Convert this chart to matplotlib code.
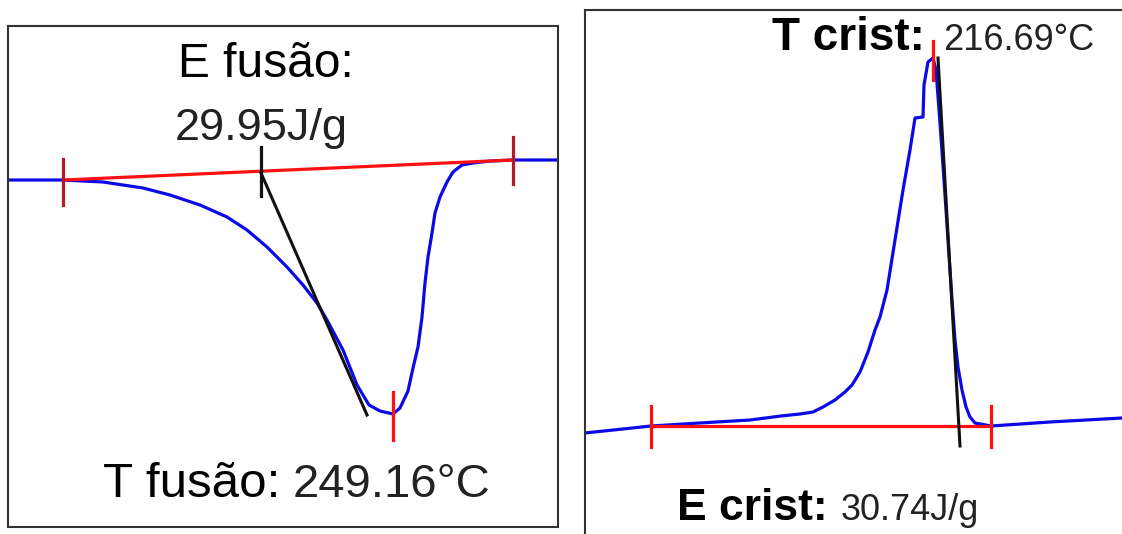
import matplotlib
matplotlib.use("Agg")
import matplotlib.pyplot as plt

plt.rcParams["font.family"] = ["Liberation Sans", "DejaVu Sans"]

W, H, DPI = 1122, 534, 100

# ---- Melting (fusão) endotherm: temperature (°C) vs heat flow (arb. units)
t_fusao = 249.16
e_fusao = 29.95
fus_temp = [218.36, 222.76, 225.96, 229.16, 231.32, 233.72, 235.88, 237.48, 239.08,
            240.68, 241.96, 243.08, 243.88, 245.16, 246.28, 247.24, 248.12, 249.16,
            249.72, 250.36, 250.76, 251.16, 251.48, 251.72, 251.96, 252.28, 252.52,
            252.92, 253.48, 253.96, 254.68, 255.56, 256.92, 258.76, 262.36]
fus_flow = [0.0, 0.0, -0.02, -0.08, -0.15, -0.25, -0.37, -0.50, -0.67,
            -0.87, -1.05, -1.23, -1.40, -1.70, -2.05, -2.25, -2.31, -2.34,
            -2.28, -2.11, -1.88, -1.67, -1.37, -1.03, -0.77, -0.53, -0.33,
            -0.17, -0.02, 0.08, 0.15, 0.17, 0.19, 0.20, 0.20]
fus_base_temp = [222.76, 258.76]
fus_base_flow = [0.0, 0.20]
fus_area_temp = 238.6          # marker on the baseline for the enthalpy label
fus_tangent_temp = [238.6, 247.08]
fus_tangent_flow = [0.07, -2.35]

# ---- Crystallisation (crist) exotherm
t_crist = 216.69
e_crist = 30.74
cri_temp = [188.85, 194.13, 198.05, 202.05, 204.53, 206.05, 207.09, 207.89, 208.85,
            209.65, 210.21, 210.85, 211.49, 212.05, 212.45, 213.01, 213.65, 214.29,
            214.85, 215.25, 215.89, 215.97, 216.29, 216.69, 216.93, 217.25, 217.57,
            217.89, 218.21, 218.45, 218.69, 219.01, 219.33, 219.65, 220.05, 221.33,
            226.05, 231.81]
cri_flow = [-0.07, 0.0, 0.03, 0.06, 0.10, 0.12, 0.14, 0.19, 0.26,
            0.34, 0.41, 0.54, 0.74, 0.96, 1.09, 1.36, 1.86, 2.36,
            2.76, 3.08, 3.09, 3.41, 3.64, 3.68, 3.56, 3.03, 2.46,
            1.86, 1.26, 0.86, 0.59, 0.36, 0.19, 0.09, 0.03, 0.0,
            0.04, 0.08]
cri_base_temp = [194.13, 221.33]
cri_base_flow = [0.0, 0.0]
cri_tangent_temp = [217.09, 218.85]
cri_tangent_flow = [3.68, -0.20]

BLUE = "#0a0ae8"
RED = "#ff1010"
DARKRED = "#b51a2a"
BLACK = "#111111"
TXT = "#222222"

fig = plt.figure(figsize=(W / DPI, H / DPI), dpi=DPI)
fig.patch.set_facecolor("white")


def px_axes(left, top, right, bottom):
    return fig.add_axes([left / W, 1 - bottom / H, (right - left) / W, (bottom - top) / H])


def style(ax, hide=()):
    ax.set_xticks([])
    ax.set_yticks([])
    for name, sp in ax.spines.items():
        sp.set_linewidth(1.5)
        sp.set_color("#333333")
        if name in hide:
            sp.set_visible(False)


# Left panel: melting
ax1 = px_axes(8, 26, 558, 527)
ax1.set_xlim(218.36, 262.36)
ax1.set_ylim(-3.47, 1.54)
style(ax1)
ax1.plot(fus_temp, fus_flow, color=BLUE, lw=2.3, solid_joinstyle="round")
ax1.plot(fus_base_temp, fus_base_flow, color=RED, lw=2.3)
for t, lo, hi in [(fus_base_temp[0], -0.25, 0.21), (fus_base_temp[1], -0.04, 0.43)]:
    ax1.plot([t, t], [lo, hi], color=DARKRED, lw=2.3)
ax1.plot([t_fusao, t_fusao], [-2.60, -2.12], color=RED, lw=2.3)
ax1.plot([fus_area_temp, fus_area_temp], [-0.16, 0.33], color=BLACK, lw=2.3)
ax1.plot(fus_tangent_temp, fus_tangent_flow, color=BLACK, lw=2.2)

# Right panel: crystallisation
ax2 = px_axes(585, 10, 1122, 534)
ax2.set_xlim(188.85, 231.81)
ax2.set_ylim(-1.08, 4.16)
style(ax2, hide=("right", "bottom"))
ax2.plot(cri_temp, cri_flow, color=BLUE, lw=2.3, solid_joinstyle="round")
ax2.plot(cri_base_temp, cri_base_flow, color=RED, lw=2.3)
for t in cri_base_temp:
    ax2.plot([t, t], [-0.21, 0.20], color=RED, lw=2.3)
ax2.plot([t_crist, t_crist], [3.46, 3.85], color=RED, lw=2.3)
ax2.plot(cri_tangent_temp, cri_tangent_flow, color=BLACK, lw=2.2)


def label(x, y, s, size, bold=False, color="black"):
    fig.text(x / W, 1 - y / H, s, fontsize=size, color=color,
             fontweight="bold" if bold else "normal", ha="left", va="baseline")


label(178, 77, "E fusão:", 34.5)
label(175, 140, f"{e_fusao:.2f}J/g", 32.5, color=TXT)
label(103, 497, "T fusão:", 35.5)
label(293, 497, f"{t_fusao:.2f}°C", 34, color=TXT)

label(772, 50, "T crist:", 33, bold=True)
label(943, 50, f"{t_crist:.2f}°C", 26, color=TXT)
label(677, 520, "E crist:", 32, bold=True)
label(841, 520, f"{e_crist:.2f}J/g", 26, color=TXT)

fig.savefig("out.png", dpi=DPI, facecolor="white")
